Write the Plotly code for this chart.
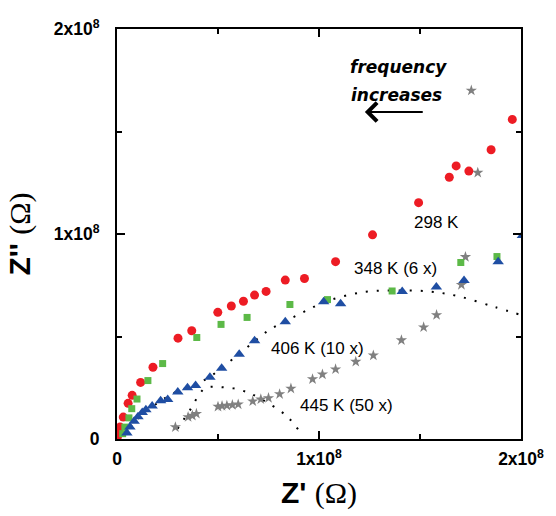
import numpy as np
import plotly.graph_objects as go

# Impedance values in units of 1e8 Ohm (Z' real, Z'' imaginary)
# 298 K
zre_298 = [0.002, 0.005, 0.015, 0.031, 0.055, 0.075, 0.117, 0.178, 0.302, 0.370, 0.499, 0.566, 0.626,
           0.681, 0.738, 0.833, 0.928, 1.082, 1.265, 1.493, 1.645, 1.679, 1.742, 1.852, 1.957]
zim_298 = [0.010, 0.024, 0.058, 0.107, 0.174, 0.213, 0.276, 0.350, 0.492, 0.528, 0.618, 0.649, 0.672,
           0.702, 0.720, 0.775, 0.783, 0.865, 0.996, 1.153, 1.277, 1.332, 1.307, 1.411, 1.559]
# 348 K (scaled 6x)
zre_348 = [0.028, 0.039, 0.059, 0.073, 0.099, 0.153, 0.226, 0.395, 0.515, 0.644, 0.856, 1.042, 1.362,
           1.702, 1.881]
zim_348 = [0.026, 0.058, 0.103, 0.148, 0.195, 0.285, 0.368, 0.495, 0.559, 0.593, 0.656, 0.680, 0.722,
           0.861, 0.890]
# 406 K (scaled 10x)
zre_406 = [0.049, 0.064, 0.085, 0.104, 0.125, 0.143, 0.174, 0.216, 0.251, 0.301, 0.349, 0.389, 0.460,
           0.518, 0.605, 0.681, 0.833, 1.023, 1.107, 1.412, 1.581, 1.718, 1.887, 2.007]
zim_406 = [0.029, 0.058, 0.087, 0.109, 0.129, 0.143, 0.161, 0.186, 0.193, 0.229, 0.250, 0.261, 0.301,
           0.345, 0.414, 0.479, 0.572, 0.670, 0.660, 0.720, 0.742, 0.773, 0.865, 0.993]
# 445 K (scaled 50x)
zre_445 = [0.289, 0.352, 0.373, 0.393, 0.500, 0.520, 0.544, 0.571, 0.600, 0.672, 0.712, 0.750, 0.805,
           0.861, 0.968, 1.017, 1.082, 1.182, 1.269, 1.408, 1.518, 1.582, 1.705, 1.725, 1.786, 1.754]
zim_445 = [0.058, 0.107, 0.114, 0.123, 0.158, 0.161, 0.163, 0.166, 0.169, 0.184, 0.194, 0.200, 0.219,
           0.246, 0.292, 0.315, 0.340, 0.377, 0.408, 0.482, 0.545, 0.605, 0.752, 0.888, 1.299, 1.700]

# Fitted arcs (dotted guides)
fit_big_re = [0.03, 0.096, 0.194, 0.289, 0.40, 0.512, 0.561, 0.60, 0.748, 0.895, 1.042, 1.222, 1.384,
              1.545, 1.692, 1.873, 2.0]
fit_big_im = [0.02, 0.091, 0.171, 0.228, 0.270, 0.340, 0.381, 0.41, 0.528, 0.605, 0.673, 0.717, 0.724,
              0.720, 0.696, 0.643, 0.605]
fit_small_re = [0.30, 0.328, 0.365, 0.393, 0.435, 0.479, 0.528, 0.577, 0.621, 0.667, 0.805, 0.859, 0.900]
fit_small_im = [0.05, 0.092, 0.147, 0.195, 0.248, 0.255, 0.252, 0.247, 0.236, 0.219, 0.139, 0.093, 0.042]

tick_vals = [0, 1, 2]
tick_text = ["<b>0</b>", "<b>1x10<sup>8</sup></b>", "<b>2x10<sup>8</sup></b>"]
minor_vals = [0.5, 1.5]

S = 1e8


def sc(v):
    return np.array(v) * S


fig = go.Figure()

dot_line = dict(color="black", width=2, dash="2px,9px", shape="spline")
fig.add_trace(go.Scatter(x=sc(fit_big_re), y=sc(fit_big_im), mode="lines", line=dot_line, hoverinfo="skip"))
fig.add_trace(go.Scatter(x=sc(fit_small_re), y=sc(fit_small_im), mode="lines", line=dot_line, hoverinfo="skip"))

fig.add_trace(go.Scatter(x=sc(zre_445), y=sc(zim_445), mode="markers", name="445 K",
                         marker=dict(symbol="star", size=8.5, color="#808080")))
fig.add_trace(go.Scatter(x=sc(zre_298), y=sc(zim_298), mode="markers", name="298 K",
                         marker=dict(symbol="circle", size=9, color="#ED1C24")))
fig.add_trace(go.Scatter(x=sc(zre_348), y=sc(zim_348), mode="markers", name="348 K",
                         marker=dict(symbol="square", size=7, color="#5CB947")))
fig.add_trace(go.Scatter(x=sc(zre_406), y=sc(zim_406), mode="markers", name="406 K",
                         marker=dict(symbol="triangle-up", size=10, color="#1F4EA3")))

axis_common = dict(
    range=[0, 2 * S],
    tickvals=[v * S for v in tick_vals],
    ticktext=tick_text,
    ticks="inside", ticklen=8, tickwidth=2, tickcolor="black",
    minor=dict(tickvals=[v * S for v in minor_vals], ticks="inside", ticklen=5, tickwidth=2,
               tickcolor="black"),
    showline=True, linecolor="black", linewidth=2, mirror="ticks",
    showgrid=False, zeroline=False,
    tickfont=dict(family="Arial, Liberation Sans", size=17.5, color="black"),
)

fig.update_xaxes(**axis_common, ticklabelstandoff=3,
                 title=dict(text="<b>Z'</b> <span style='font-family:Liberation Serif'>(Ω)</span>",
                            font=dict(family="Arial, Liberation Sans", size=30, color="black"),
                            standoff=14))
fig.update_yaxes(**axis_common, ticklabelstandoff=12,
                 title=dict(text="<b>Z''</b> <span style='font-family:Liberation Serif'>(Ω)</span>",
                            font=dict(family="Arial, Liberation Sans", size=30, color="black"),
                            standoff=14))

label_font = dict(family="Arial, Liberation Sans", size=17, color="black")
labels = [("298 K", 1.583, 1.054), ("348 K (6 x)", 1.378, 0.830),
          ("406 K (10 x)", 0.993, 0.441), ("445 K (50 x)", 1.136, 0.163)]
for txt, lx, ly in labels:
    fig.add_annotation(x=lx * S, y=ly * S, text=txt, showarrow=False, font=label_font,
                       xanchor="center", yanchor="middle")

note_font = dict(family="DejaVu Sans", size=17, color="black", weight="bold", style="italic")
fig.add_annotation(x=1.392 * S, y=1.813 * S, text="frequency", showarrow=False, font=note_font)
fig.add_annotation(x=1.383 * S, y=1.680 * S, text="increases", showarrow=False, font=note_font)
fig.add_annotation(x=1.227 * S, y=1.595 * S, ax=1.521 * S, ay=1.595 * S, axref="x", ayref="y",
                   text="", showarrow=True, arrowhead=4, arrowsize=1.8, arrowwidth=2,
                   arrowcolor="black")

fig.update_layout(
    width=556, height=516,
    margin=dict(l=117, r=30, t=29, b=74),
    paper_bgcolor="white", plot_bgcolor="white",
    showlegend=False,
)

fig.write_html("out.html")
